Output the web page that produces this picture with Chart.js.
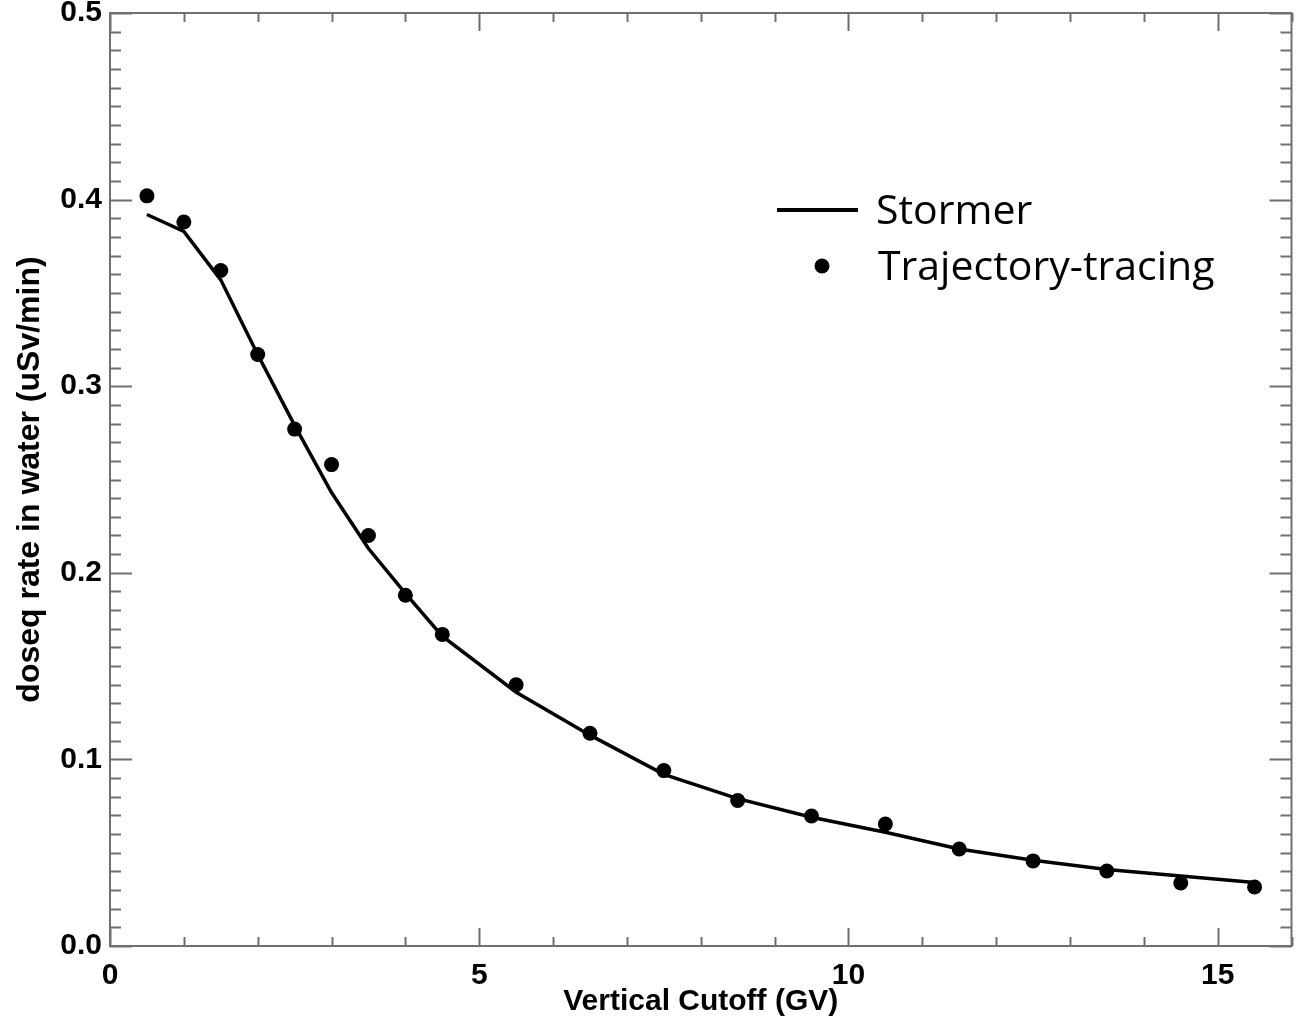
<!DOCTYPE html>
<html>
<head>
<meta charset="utf-8">
<script src="https://cdn.jsdelivr.net/npm/chart.js@4.4.0/dist/chart.umd.min.js"></script>
<style>
  html, body { margin: 0; padding: 0; background: #fff; }
  #wrap { width: 1299px; height: 1026px; }
</style>
</head>
<body>
<div id="wrap"><canvas id="myCanvas" width="1299" height="1026"></canvas></div>
<script>
// cutoff rigidity (GV)
const cutoffs = [0.5, 1.0, 1.5, 2.0, 2.5, 3.0, 3.5, 4.0, 4.5, 5.5, 6.5, 7.5, 8.5, 9.5, 10.5, 11.5, 12.5, 13.5, 14.5, 15.5];
// Stormer cutoff curve
const stormer = [0.392, 0.383, 0.357, 0.317, 0.279, 0.243, 0.213, 0.189, 0.166, 0.136, 0.113, 0.092, 0.079, 0.069, 0.061, 0.052, 0.046, 0.041, 0.0375, 0.034];
// trajectory-tracing points
const tracing = [0.402, 0.388, 0.362, 0.317, 0.277, 0.258, 0.220, 0.188, 0.167, 0.140, 0.114, 0.094, 0.078, 0.0697, 0.0654, 0.052, 0.0456, 0.0402, 0.0338, 0.0316];
const xTicks = [0, 5, 10, 15];
const legendNames = ['Stormer', 'Trajectory-tracing'];

const axisGrey = '#707070';
const axisFont = "'Liberation Sans', Arial, Helvetica, sans-serif";

// IDL style box with inward ticks on all four sides
const boxTicks = {
  id: 'boxTicks',
  afterDraw(chart) {
    const ctx = chart.ctx;
    const a = chart.chartArea;
    const xs = chart.scales.x;
    const ys = chart.scales.y;
    ctx.save();
    ctx.strokeStyle = axisGrey;
    ctx.lineWidth = 2;
    ctx.beginPath();
    for (let v = 0; v <= 16; v++) {
      const px = Math.round(xs.getPixelForValue(v)) + 0.5;
      const len = v % 5 === 0 ? 18 : 9;
      ctx.moveTo(px, a.bottom); ctx.lineTo(px, a.bottom - len);
      ctx.moveTo(px, a.top); ctx.lineTo(px, a.top + len);
    }
    for (let i = 0; i <= 50; i++) {
      const py = Math.round(ys.getPixelForValue(i / 100)) + 0.5;
      const len = i % 10 === 0 ? 22 : 11;
      ctx.moveTo(a.left, py); ctx.lineTo(a.left + len, py);
      ctx.moveTo(a.right, py); ctx.lineTo(a.right - len, py);
    }
    ctx.stroke();
    ctx.strokeRect(a.left, a.top, a.right - a.left, a.bottom - a.top);
    ctx.restore();
  }
};

// legend pasted in the upper right, like the original figure
const legendBox = {
  id: 'legendBox',
  afterDraw(chart) {
    const ctx = chart.ctx;
    ctx.save();
    ctx.strokeStyle = '#000';
    ctx.lineWidth = 4;
    ctx.beginPath();
    ctx.moveTo(777, 210); ctx.lineTo(858, 210);
    ctx.stroke();
    ctx.fillStyle = '#000';
    ctx.beginPath();
    ctx.arc(822, 266, 7.5, 0, Math.PI * 2);
    ctx.fill();
    ctx.font = "41px 'Open Sans', 'Noto Sans', sans-serif";
    ctx.textBaseline = 'alphabetic';
    ctx.textAlign = 'left';
    ctx.fillText(legendNames[0], 876, 224);
    ctx.fillText(legendNames[1], 878, 280);
    ctx.restore();
  }
};

const chartData = {
  datasets: [
    {
      label: legendNames[0],
      data: cutoffs.map((c, i) => ({ x: c, y: stormer[i] })),
      borderColor: '#000',
      borderWidth: 3.5,
      pointRadius: 0,
      tension: 0,
      showLine: true
    },
    {
      label: legendNames[1],
      data: cutoffs.map((c, i) => ({ x: c, y: tracing[i] })),
      backgroundColor: '#000',
      borderColor: '#000',
      pointRadius: 7.5,
      pointBorderWidth: 0,
      showLine: false
    }
  ]
};

const canvas = document.getElementById('myCanvas');
new Chart(canvas, {
  type: 'scatter',
  data: chartData,
  plugins: [boxTicks, legendBox],
  options: {
    responsive: false,
    animation: false,
    devicePixelRatio: 1,
    layout: { padding: { top: 13, right: 6, left: 0, bottom: 0 } },
    plugins: { legend: { display: false }, tooltip: { enabled: false } },
    scales: {
      x: {
        type: 'linear',
        min: 0,
        max: 16,
        grid: { display: false, drawTicks: false },
        border: { display: false },
        afterBuildTicks: (scale) => { scale.ticks = xTicks.map(v => ({ value: v })); },
        afterFit: (scale) => { scale.height = 80; scale.paddingLeft = 0; scale.paddingRight = 0; },
        ticks: {
          color: '#000',
          padding: 12,
          maxRotation: 0,
          font: { family: axisFont, size: 30, weight: 'bold' }
        },
        title: {
          display: true,
          text: 'Vertical Cutoff (GV)',
          color: '#000',
          padding: { top: 0, bottom: 6 },
          font: { family: axisFont, size: 30, weight: 'bold' }
        }
      },
      y: {
        type: 'linear',
        min: 0,
        max: 0.5,
        grid: { display: false, drawTicks: false },
        border: { display: false },
        afterFit: (scale) => { scale.width = 110; scale.paddingTop = 0; scale.paddingBottom = 0; },
        ticks: {
          stepSize: 0.1,
          color: '#000',
          padding: 8,
          font: { family: axisFont, size: 30, weight: 'bold' },
          callback: (v) => v.toFixed(1)
        },
        title: {
          display: true,
          text: 'doseq rate in water (uSv/min)',
          color: '#000',
          padding: { top: 11, bottom: 0 },
          font: { family: axisFont, size: 32, weight: 'bold' }
        }
      }
    }
  }
});
</script>
</body>
</html>
